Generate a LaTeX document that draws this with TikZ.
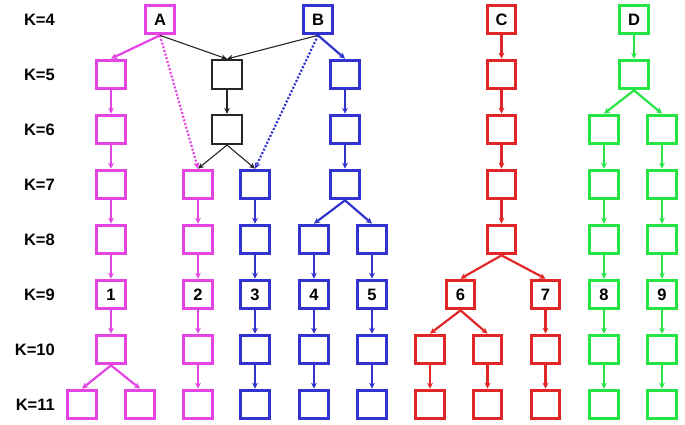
\documentclass[tikz,border=0pt]{standalone}
\usepackage{fontspec}
\setmainfont{Liberation Sans}
\usetikzlibrary{arrows.meta}
\definecolor{cmag}{RGB}{228,68,228}
\definecolor{cblue}{RGB}{50,50,206}
\definecolor{cred}{RGB}{224,38,38}
\definecolor{cgreen}{RGB}{38,228,68}
\begin{document}
\begin{tikzpicture}[x=1pt,y=-1pt,
  bx/.style={draw=#1, line width=3.2pt, minimum size=28.5pt, inner sep=0pt,
    font=\fontsize{16.5}{16.5}\selectfont\bfseries, text=black},
  kbx/.style={draw=black!85, line width=1.6pt, minimum size=29.5pt, inner sep=0pt},
  ar/.style={draw=#1, line width=2.2pt, -{Stealth[length=6pt,width=6pt]}},
  kar/.style={draw=black!85, line width=1.1pt, -{Stealth[length=6pt,width=5.5pt]}},
  dar/.style={draw=#1, line width=2.2pt, dash pattern=on 2pt off 1.8pt, -{Stealth[length=6pt,width=6pt]}},
  klab/.style={anchor=east, font=\fontsize{16.5}{16.5}\selectfont\bfseries, inner sep=0pt}]
\useasboundingbox (0,0) rectangle (685,425);
% row labels
\foreach \k in {4,...,11}{
  \node[klab] (lab\k) at (55,{19.5+55*(\k-4)}) {K=\k};
}
% ---- magenta ----
\node[bx=cmag] (A) at (160,19.5) {A};
\foreach \k in {5,...,10}{
  \node[bx=cmag] (m1-\k) at (111,{19.5+55*(\k-4)}) {\ifnum\k=9 1\fi};
}
\node[bx=cmag] (m1-11a) at (82,404.5) {};
\node[bx=cmag] (m1-11b) at (140,404.5) {};
\foreach \k in {7,...,11}{
  \node[bx=cmag] (m2-\k) at (198,{19.5+55*(\k-4)}) {\ifnum\k=9 2\fi};
}
% ---- black ----
\node[kbx] (k5) at (227,74.5) {};
\node[kbx] (k6) at (227,129.5) {};
% ---- blue ----
\node[bx=cblue] (B) at (318,19.5) {B};
\foreach \k in {5,6,7}{
  \node[bx=cblue] (bb-\k) at (345,{19.5+55*(\k-4)}) {};
}
\foreach \k in {7,...,11}{
  \node[bx=cblue] (b3-\k) at (255,{19.5+55*(\k-4)}) {\ifnum\k=9 3\fi};
}
\foreach \k in {8,...,11}{
  \node[bx=cblue] (b4-\k) at (314,{19.5+55*(\k-4)}) {\ifnum\k=9 4\fi};
  \node[bx=cblue] (b5-\k) at (372,{19.5+55*(\k-4)}) {\ifnum\k=9 5\fi};
}
% ---- red ----
\node[bx=cred] (C) at (501.5,19.5) {C};
\foreach \k in {5,...,8}{
  \node[bx=cred] (r-\k) at (501.5,{19.5+55*(\k-4)}) {};
}
\node[bx=cred] (r6-9) at (460.5,294.5) {6};
\foreach \k in {9,10,11}{
  \node[bx=cred] (r7-\k) at (545.5,{19.5+55*(\k-4)}) {\ifnum\k=9 7\fi};
}
\foreach \k in {10,11}{
  \node[bx=cred] (r6a-\k) at (430,{19.5+55*(\k-4)}) {};
  \node[bx=cred] (r6b-\k) at (487.5,{19.5+55*(\k-4)}) {};
}
% ---- green ----
\node[bx=cgreen] (D) at (634,19.5) {D};
\node[bx=cgreen] (g-5) at (634,74.5) {};
\foreach \k in {6,...,11}{
  \node[bx=cgreen] (g8-\k) at (604,{19.5+55*(\k-4)}) {\ifnum\k=9 8\fi};
  \node[bx=cgreen] (g9-\k) at (662,{19.5+55*(\k-4)}) {\ifnum\k=9 9\fi};
}
% ---- magenta edges ----
\draw[ar=cmag] (A.south) -- (m1-5.north);
\foreach \k/\n in {5/6,6/7,7/8,8/9,9/10}{
  \draw[ar=cmag] (m1-\k.south) -- (m1-\n.north);
}
\draw[ar=cmag] (m1-10.south) -- (m1-11a.north);
\draw[ar=cmag] (m1-10.south) -- (m1-11b.north);
\foreach \k/\n in {7/8,8/9,9/10,10/11}{
  \draw[ar=cmag] (m2-\k.south) -- (m2-\n.north);
}
\draw[dar=cmag] (A.south) -- (m2-7.north);
% ---- black edges ----
\draw[kar] (A.south) -- (k5.north);
\draw[kar] (B.south) -- (k5.north);
\draw[kar] (k5.south) -- (k6.north);
\draw[kar] (k6.south) -- (m2-7.north);
\draw[kar] (k6.south) -- (b3-7.north);
% ---- blue edges ----
\draw[ar=cblue] (B.south) -- (bb-5.north);
\draw[dar=cblue] (B.south) -- (b3-7.north);
\draw[ar=cblue] (bb-5.south) -- (bb-6.north);
\draw[ar=cblue] (bb-6.south) -- (bb-7.north);
\draw[ar=cblue] (bb-7.south) -- (b4-8.north);
\draw[ar=cblue] (bb-7.south) -- (b5-8.north);
\foreach \k/\n in {7/8,8/9,9/10,10/11}{
  \draw[ar=cblue] (b3-\k.south) -- (b3-\n.north);
}
\foreach \k/\n in {8/9,9/10,10/11}{
  \draw[ar=cblue] (b4-\k.south) -- (b4-\n.north);
  \draw[ar=cblue] (b5-\k.south) -- (b5-\n.north);
}
% ---- red edges ----
\draw[ar=cred] (C.south) -- (r-5.north);
\foreach \k/\n in {5/6,6/7,7/8}{
  \draw[ar=cred] (r-\k.south) -- (r-\n.north);
}
\draw[ar=cred] (r-8.south) -- (r6-9.north);
\draw[ar=cred] (r-8.south) -- (r7-9.north);
\draw[ar=cred] (r6-9.south) -- (r6a-10.north);
\draw[ar=cred] (r6-9.south) -- (r6b-10.north);
\draw[ar=cred] (r6a-10.south) -- (r6a-11.north);
\draw[ar=cred] (r6b-10.south) -- (r6b-11.north);
\draw[ar=cred] (r7-9.south) -- (r7-10.north);
\draw[ar=cred] (r7-10.south) -- (r7-11.north);
% ---- green edges ----
\draw[ar=cgreen] (D.south) -- (g-5.north);
\draw[ar=cgreen] (g-5.south) -- (g8-6.north);
\draw[ar=cgreen] (g-5.south) -- (g9-6.north);
\foreach \k/\n in {6/7,7/8,8/9,9/10,10/11}{
  \draw[ar=cgreen] (g8-\k.south) -- (g8-\n.north);
  \draw[ar=cgreen] (g9-\k.south) -- (g9-\n.north);
}
\end{tikzpicture}
\end{document}
